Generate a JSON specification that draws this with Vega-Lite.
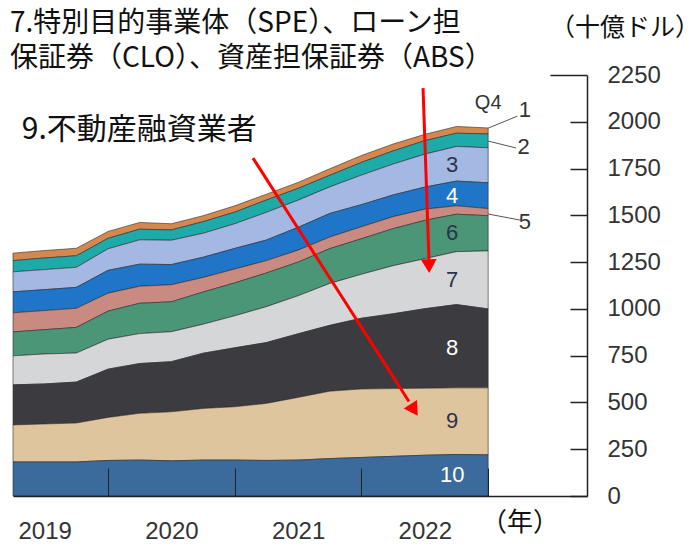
{
  "$schema": "https://vega.github.io/schema/vega-lite/v6.json",
  "width": 574,
  "height": 421,
  "autosize": {"type": "none"},
  "padding": {"left": 13, "top": 75, "right": 113, "bottom": 52},
  "background": "white",
  "config": {"view": {"stroke": null}},
  "datasets": {
    "stock": [
      {"t":2019.25,"band":1,"value":40},{"t":2019.25,"band":2,"value":60},{"t":2019.25,"band":3,"value":107},{"t":2019.25,"band":4,"value":112},{"t":2019.25,"band":5,"value":102},{"t":2019.25,"band":6,"value":128},{"t":2019.25,"band":7,"value":155},{"t":2019.25,"band":8,"value":214},{"t":2019.25,"band":9,"value":198},{"t":2019.25,"band":10,"value":182},
      {"t":2019.5,"band":1,"value":40},{"t":2019.5,"band":2,"value":62},{"t":2019.5,"band":3,"value":107},{"t":2019.5,"band":4,"value":112},{"t":2019.5,"band":5,"value":102},{"t":2019.5,"band":6,"value":130},{"t":2019.5,"band":7,"value":160},{"t":2019.5,"band":8,"value":214},{"t":2019.5,"band":9,"value":203},{"t":2019.5,"band":10,"value":182},
      {"t":2019.75,"band":1,"value":40},{"t":2019.75,"band":2,"value":62},{"t":2019.75,"band":3,"value":107},{"t":2019.75,"band":4,"value":112},{"t":2019.75,"band":5,"value":102},{"t":2019.75,"band":6,"value":137},{"t":2019.75,"band":7,"value":155},{"t":2019.75,"band":8,"value":219},{"t":2019.75,"band":9,"value":208},{"t":2019.75,"band":10,"value":182},
      {"t":2020,"band":1,"value":37},{"t":2020,"band":2,"value":56},{"t":2020,"band":3,"value":115},{"t":2020,"band":4,"value":122},{"t":2020,"band":5,"value":96},{"t":2020,"band":6,"value":150},{"t":2020,"band":7,"value":160},{"t":2020,"band":8,"value":258},{"t":2020,"band":9,"value":230},{"t":2020,"band":10,"value":190},
      {"t":2020.25,"band":1,"value":36},{"t":2020.25,"band":2,"value":57},{"t":2020.25,"band":3,"value":130},{"t":2020.25,"band":4,"value":118},{"t":2020.25,"band":5,"value":91},{"t":2020.25,"band":6,"value":162},{"t":2020.25,"band":7,"value":160},{"t":2020.25,"band":8,"value":266},{"t":2020.25,"band":9,"value":250},{"t":2020.25,"band":10,"value":192},
      {"t":2020.5,"band":1,"value":33},{"t":2020.5,"band":2,"value":55},{"t":2020.5,"band":3,"value":130},{"t":2020.5,"band":4,"value":108},{"t":2020.5,"band":5,"value":91},{"t":2020.5,"band":6,"value":160},{"t":2020.5,"band":7,"value":160},{"t":2020.5,"band":8,"value":268},{"t":2020.5,"band":9,"value":262},{"t":2020.5,"band":10,"value":188},
      {"t":2020.75,"band":1,"value":32},{"t":2020.75,"band":2,"value":62},{"t":2020.75,"band":3,"value":128},{"t":2020.75,"band":4,"value":108},{"t":2020.75,"band":5,"value":78},{"t":2020.75,"band":6,"value":172},{"t":2020.75,"band":7,"value":155},{"t":2020.75,"band":8,"value":295},{"t":2020.75,"band":9,"value":276},{"t":2020.75,"band":10,"value":192},
      {"t":2021,"band":1,"value":34},{"t":2021,"band":2,"value":62},{"t":2021,"band":3,"value":132},{"t":2021,"band":4,"value":110},{"t":2021,"band":5,"value":74},{"t":2021,"band":6,"value":176},{"t":2021,"band":7,"value":171},{"t":2021,"band":8,"value":315},{"t":2021,"band":9,"value":285},{"t":2021,"band":10,"value":192},
      {"t":2021.25,"band":1,"value":31},{"t":2021.25,"band":2,"value":66},{"t":2021.25,"band":3,"value":148},{"t":2021.25,"band":4,"value":110},{"t":2021.25,"band":5,"value":66},{"t":2021.25,"band":6,"value":180},{"t":2021.25,"band":7,"value":192},{"t":2021.25,"band":8,"value":325},{"t":2021.25,"band":9,"value":305},{"t":2021.25,"band":10,"value":190},
      {"t":2021.5,"band":1,"value":32},{"t":2021.5,"band":2,"value":63},{"t":2021.5,"band":3,"value":145},{"t":2021.5,"band":4,"value":122},{"t":2021.5,"band":5,"value":64},{"t":2021.5,"band":6,"value":180},{"t":2021.5,"band":7,"value":203},{"t":2021.5,"band":8,"value":340},{"t":2021.5,"band":9,"value":335},{"t":2021.5,"band":10,"value":192},
      {"t":2021.75,"band":1,"value":35},{"t":2021.75,"band":2,"value":62},{"t":2021.75,"band":3,"value":142},{"t":2021.75,"band":4,"value":126},{"t":2021.75,"band":5,"value":62},{"t":2021.75,"band":6,"value":186},{"t":2021.75,"band":7,"value":224},{"t":2021.75,"band":8,"value":352},{"t":2021.75,"band":9,"value":360},{"t":2021.75,"band":10,"value":200},
      {"t":2022,"band":1,"value":37},{"t":2022,"band":2,"value":68},{"t":2022,"band":3,"value":158},{"t":2022,"band":4,"value":118},{"t":2022,"band":5,"value":64},{"t":2022,"band":6,"value":190},{"t":2022,"band":7,"value":235},{"t":2022,"band":8,"value":378},{"t":2022,"band":9,"value":366},{"t":2022,"band":10,"value":206},
      {"t":2022.25,"band":1,"value":37},{"t":2022.25,"band":2,"value":70},{"t":2022.25,"band":3,"value":165},{"t":2022.25,"band":4,"value":116},{"t":2022.25,"band":5,"value":64},{"t":2022.25,"band":6,"value":198},{"t":2022.25,"band":7,"value":257},{"t":2022.25,"band":8,"value":400},{"t":2022.25,"band":9,"value":362},{"t":2022.25,"band":10,"value":212},
      {"t":2022.5,"band":1,"value":34},{"t":2022.5,"band":2,"value":72},{"t":2022.5,"band":3,"value":176},{"t":2022.5,"band":4,"value":118},{"t":2022.5,"band":5,"value":60},{"t":2022.5,"band":6,"value":205},{"t":2022.5,"band":7,"value":267},{"t":2022.5,"band":8,"value":425},{"t":2022.5,"band":9,"value":358},{"t":2022.5,"band":10,"value":218},
      {"t":2022.75,"band":1,"value":36},{"t":2022.75,"band":2,"value":71},{"t":2022.75,"band":3,"value":185},{"t":2022.75,"band":4,"value":132},{"t":2022.75,"band":5,"value":45},{"t":2022.75,"band":6,"value":200},{"t":2022.75,"band":7,"value":283},{"t":2022.75,"band":8,"value":445},{"t":2022.75,"band":9,"value":356},{"t":2022.75,"band":10,"value":222},
      {"t":2023,"band":1,"value":32},{"t":2023,"band":2,"value":74},{"t":2023,"band":3,"value":187},{"t":2023,"band":4,"value":138},{"t":2023,"band":5,"value":38},{"t":2023,"band":6,"value":188},{"t":2023,"band":7,"value":310},{"t":2023,"band":8,"value":422},{"t":2023,"band":9,"value":358},{"t":2023,"band":10,"value":220}
    ],
    "leaders": [
      {"label":"1","t":2023.0,"v":1966,"t2":2023.23,"v2":2030,"lt":2023.29,"lv":2063},
      {"label":"2","t":2023.0,"v":1897,"t2":2023.22,"v2":1860,"lt":2023.28,"lv":1865},
      {"label":"5","t":2023.0,"v":1507,"t2":2023.25,"v2":1475,"lt":2023.29,"lv":1464}
    ],
    "arrows": [
      {"t":2022.486,"v":2180,"t2":2022.533,"v2":1260},
      {"t":2021.144,"v":1806,"t2":2022.375,"v2":505}
    ],
    "toplines": [
      {"text":"7.特別目的事業体（SPE）、ローン担","t":2019.226,"v":2520},
      {"text":"保証券（CLO）、資産担保証券（ABS）","t":2019.226,"v":2333}
    ]
  },
  "layer": [
    {
      "data": {"name": "stock"},
      "mark": {"type": "area", "stroke": "#2b2b2b", "strokeWidth": 0.8, "strokeOpacity": 0.75},
      "encoding": {
        "x": {
          "field": "t", "type": "quantitative",
          "scale": {"domain": [2019.25, 2023.78], "nice": false, "zero": false},
          "axis": {
            "orient": "bottom",
            "values": [2019.5, 2020, 2020.5, 2021, 2021.5, 2022, 2022.5, 2023],
            "labelExpr": "datum.value % 1 == 0 ? '' : '' + floor(datum.value)",
            "tickSize": -28, "tickColor": "#222", "tickWidth": 1,
            "tickOpacity": {"condition": {"test": "datum.value % 1 == 0", "value": 1}, "value": 0},
            "domainColor": "#222", "domainWidth": 1.5,
            "labelFont": "Liberation Sans", "labelFontSize": 24, "labelColor": "#333",
            "labelPadding": 51, "labelFlush": false, "labelOverlap": false,
            "grid": false, "title": null, "zindex": 1
          }
        },
        "y": {
          "field": "value", "type": "quantitative", "stack": "zero",
          "scale": {"domain": [0, 2250], "nice": false},
          "axis": {
            "orient": "right",
            "values": [0, 250, 500, 750, 1000, 1250, 1500, 1750, 2000, 2250],
            "format": "d",
            "tickSize": {"condition": {"test": "datum.value == 2250", "value": -37}, "value": -17},
            "labelPadding": {"condition": {"test": "datum.value == 2250", "value": 57}, "value": 37},
            "tickColor": "#222", "tickWidth": 1.5,
            "domainColor": "#222", "domainWidth": 1.5,
            "labelFont": "Liberation Sans", "labelFontSize": 24, "labelColor": "#333",
            "labelAlign": "left", "labelBaseline": "middle",
            "labelFlush": false, "labelOverlap": false,
            "grid": false, "title": null, "zindex": 1
          }
        },
        "color": {
          "field": "band", "type": "nominal",
          "scale": {
            "domain": [1, 2, 3, 4, 5, 6, 7, 8, 9, 10],
            "range": ["#d4874e", "#1faaaa", "#a3b9e3", "#1f75c8", "#c98a82", "#4b9677", "#d5d6d8", "#3c3c40", "#dfc59e", "#3b6a9d"]
          },
          "legend": null
        },
        "order": {"field": "band", "sort": "descending"}
      }
    },
    {
      "data": {"name": "stock"},
      "transform": [
        {"stack": "value", "groupby": ["t"], "sort": [{"field": "band", "order": "descending"}], "as": ["y0", "y1"]},
        {"filter": "datum.t == 2023 && indexof([3, 4, 6, 7, 8, 9, 10], datum.band) >= 0"},
        {"calculate": "(datum.y0 + datum.y1) / 2", "as": "mid"},
        {"calculate": "'' + datum.band", "as": "lab"}
      ],
      "mark": {"type": "text", "font": "Liberation Sans", "fontSize": 22, "dx": -36, "align": "center", "baseline": "middle"},
      "encoding": {
        "x": {"field": "t", "type": "quantitative", "scale": {"domain": [2019.25, 2023.78], "nice": false, "zero": false}, "title": null},
        "y": {"field": "mid", "type": "quantitative", "scale": {"domain": [0, 2250], "nice": false}, "title": null},
        "text": {"field": "lab"},
        "color": {"condition": {"test": "indexof([4, 8, 10], datum.band) >= 0", "value": "#ffffff"}, "value": "#2e3148"}
      }
    },
    {
      "data": {"name": "leaders"},
      "mark": {"type": "rule", "color": "#555555", "strokeWidth": 1},
      "encoding": {
        "x": {"field": "t", "type": "quantitative", "scale": {"domain": [2019.25, 2023.78], "nice": false, "zero": false}, "title": null},
        "y": {"field": "v", "type": "quantitative", "scale": {"domain": [0, 2250], "nice": false}, "title": null},
        "x2": {"field": "t2"},
        "y2": {"field": "v2"}
      }
    },
    {
      "data": {"name": "leaders"},
      "mark": {"type": "text", "font": "Liberation Sans", "fontSize": 22, "color": "#333333", "align": "center", "baseline": "middle"},
      "encoding": {
        "x": {"field": "lt", "type": "quantitative", "scale": {"domain": [2019.25, 2023.78], "nice": false, "zero": false}, "title": null},
        "y": {"field": "lv", "type": "quantitative", "scale": {"domain": [0, 2250], "nice": false}, "title": null},
        "text": {"field": "label"}
      }
    },
    {
      "data": {"values": [{"text": "Q4", "t": 2023.0, "v": 2100}]},
      "mark": {"type": "text", "font": "Liberation Sans", "fontSize": 20, "color": "#333333", "align": "center", "baseline": "middle"},
      "encoding": {
        "x": {"field": "t", "type": "quantitative", "scale": {"domain": [2019.25, 2023.78], "nice": false, "zero": false}, "title": null},
        "y": {"field": "v", "type": "quantitative", "scale": {"domain": [0, 2250], "nice": false}, "title": null},
        "text": {"field": "text"}
      }
    },
    {
      "data": {"name": "arrows"},
      "mark": {"type": "rule", "color": "#ff0000", "strokeWidth": 3},
      "encoding": {
        "x": {"field": "t", "type": "quantitative", "scale": {"domain": [2019.25, 2023.78], "nice": false, "zero": false}, "title": null},
        "y": {"field": "v", "type": "quantitative", "scale": {"domain": [0, 2250], "nice": false}, "title": null},
        "x2": {"field": "t2"},
        "y2": {"field": "v2"}
      }
    },
    {
      "data": {"values": [{"t": 2022.533, "v": 1229}]},
      "mark": {"type": "point", "shape": "triangle-down", "filled": true, "color": "#ff0000", "opacity": 1, "size": 250, "angle": 358},
      "encoding": {
        "x": {"field": "t", "type": "quantitative", "scale": {"domain": [2019.25, 2023.78], "nice": false, "zero": false}, "title": null},
        "y": {"field": "v", "type": "quantitative", "scale": {"domain": [0, 2250], "nice": false}, "title": null}
      }
    },
    {
      "data": {"values": [{"t": 2022.415, "v": 460}]},
      "mark": {"type": "point", "shape": "triangle-down", "filled": true, "color": "#ff0000", "opacity": 1, "size": 250, "angle": 327.5},
      "encoding": {
        "x": {"field": "t", "type": "quantitative", "scale": {"domain": [2019.25, 2023.78], "nice": false, "zero": false}, "title": null},
        "y": {"field": "v", "type": "quantitative", "scale": {"domain": [0, 2250], "nice": false}, "title": null}
      }
    },
    {
      "data": {"name": "toplines"},
      "mark": {"type": "text", "font": "Noto Sans CJK JP", "fontSize": 28, "color": "#111111", "align": "left", "baseline": "middle"},
      "encoding": {
        "x": {"field": "t", "type": "quantitative", "scale": {"domain": [2019.25, 2023.78], "nice": false, "zero": false}, "title": null},
        "y": {"field": "v", "type": "quantitative", "scale": {"domain": [0, 2250], "nice": false}, "title": null},
        "text": {"field": "text"}
      }
    },
    {
      "data": {"values": [{"text": "9.不動産融資業者", "t": 2019.32, "v": 1956}]},
      "mark": {"type": "text", "font": "Noto Sans CJK JP", "fontSize": 30, "color": "#111111", "align": "left", "baseline": "middle"},
      "encoding": {
        "x": {"field": "t", "type": "quantitative", "scale": {"domain": [2019.25, 2023.78], "nice": false, "zero": false}, "title": null},
        "y": {"field": "v", "type": "quantitative", "scale": {"domain": [0, 2250], "nice": false}, "title": null},
        "text": {"field": "text"}
      }
    },
    {
      "data": {"values": [{"text": "（十億ドル）", "t": 2024.672, "v": 2500}]},
      "mark": {"type": "text", "font": "Noto Sans CJK JP", "fontSize": 25, "color": "#111111", "align": "right", "baseline": "middle"},
      "encoding": {
        "x": {"field": "t", "type": "quantitative", "scale": {"domain": [2019.25, 2023.78], "nice": false, "zero": false}, "title": null},
        "y": {"field": "v", "type": "quantitative", "scale": {"domain": [0, 2250], "nice": false}, "title": null},
        "text": {"field": "text"}
      }
    },
    {
      "data": {"values": [{"text": "（年）", "t": 2023.252, "v": -144}]},
      "mark": {"type": "text", "font": "Noto Sans CJK JP", "fontSize": 26, "color": "#111111", "align": "center", "baseline": "middle"},
      "encoding": {
        "x": {"field": "t", "type": "quantitative", "scale": {"domain": [2019.25, 2023.78], "nice": false, "zero": false}, "title": null},
        "y": {"field": "v", "type": "quantitative", "scale": {"domain": [0, 2250], "nice": false}, "title": null},
        "text": {"field": "text"}
      }
    }
  ]
}
